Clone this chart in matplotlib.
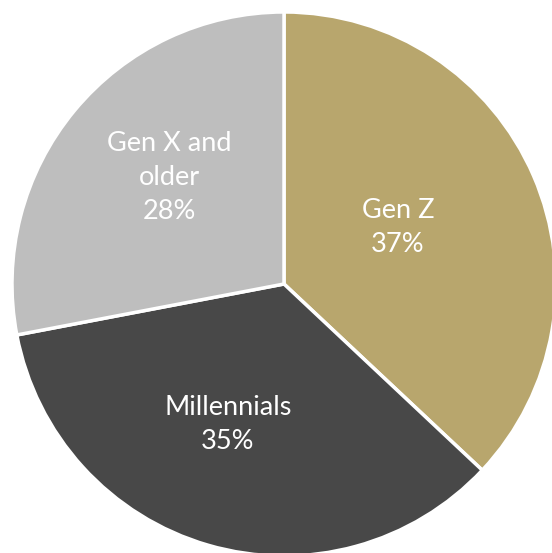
import numpy as np
import matplotlib.pyplot as plt

labels = ['Gen Z', 'Millennials', 'Gen X and\nolder']
shares = [37, 35, 28]
colors = ['#B8A66D', '#484848', '#BEBEBE']
# label placement: (distance from centre, angle nudge in degrees)
label_pos = [(0.467, 2.8), (0.557, -5.5), (0.577, -3.3)]

fig = plt.figure(figsize=(5.52, 5.53), dpi=100)
cx, cy, r = 284, 284, 272
ax = fig.add_axes([(cx - r) / 552, (553 - cy - r) / 553, 2 * r / 552, 2 * r / 553])

wedges, _ = ax.pie(shares, colors=colors, startangle=90, counterclock=False,
                   wedgeprops=dict(edgecolor='white', linewidth=2.5))

for w, lab, s, (d, nudge) in zip(wedges, labels, shares, label_pos):
    ang = np.deg2rad((w.theta1 + w.theta2) / 2 + nudge)
    ax.text(d * np.cos(ang), d * np.sin(ang), f'{lab}\n{s}%',
            ha='center', va='center', color='white', fontsize=19.5,
            family='Lato', linespacing=1.45)

ax.set_xlim(-1, 1)
ax.set_ylim(-1, 1)
ax.axis('off')

fig.savefig('out.png', dpi=100)
